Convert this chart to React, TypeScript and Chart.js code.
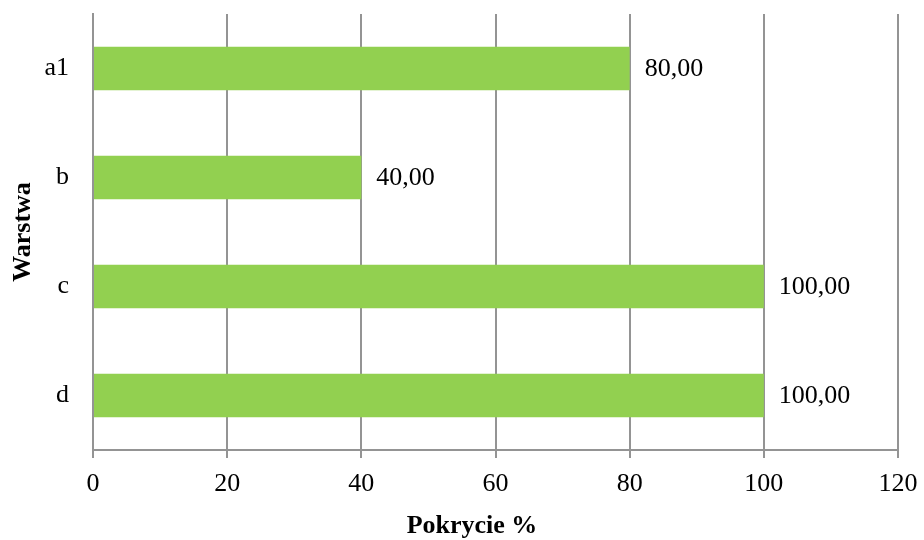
import React, { useEffect, useRef } from "react";
import { Chart, registerables } from "chart.js";

Chart.register(...registerables);

const categories = ["a1", "b", "c", "d"];
const coverage = [80, 40, 100, 100];
const xTicks = [0, 20, 40, 60, 80, 100, 120];
const xTitle = "Pokrycie %";
const yTitle = "Warstwa";

const FONT = "'Times New Roman', 'Liberation Serif', serif";
const GRID = "#949494";
const BAR = "#92D050";
const SIZE = 26;

// Value labels next to the bar ends, plus the two axis titles
const annotate = {
  id: "annotate",
  afterDatasetsDraw(chart: any) {
    const { ctx, chartArea } = chart;
    const meta = chart.getDatasetMeta(0);
    ctx.save();
    ctx.fillStyle = "#000";
    ctx.font = `${SIZE}px ${FONT}`;
    ctx.textAlign = "left";
    ctx.textBaseline = "middle";
    meta.data.forEach((bar: any, i: number) => {
      const v = coverage[i];
      ctx.fillText(v.toFixed(2).replace(".", ","), bar.x + 15, bar.y + 1);
    });
    ctx.font = `bold ${SIZE}px ${FONT}`;
    ctx.textAlign = "center";
    ctx.fillText(xTitle, 472, 526);
    ctx.translate(23, (chartArea.top + chartArea.bottom) / 2);
    ctx.rotate(-Math.PI / 2);
    ctx.fillText(yTitle, 0, 0);
    ctx.restore();
  },
};

const noPad = (s: any) => {
  s.paddingTop = 0;
  s.paddingBottom = 0;
  s.paddingLeft = 0;
  s.paddingRight = 0;
};

export default function App() {
  const ref = useRef<HTMLCanvasElement>(null);

  useEffect(() => {
    document.body.style.margin = "0";
    const chart = new Chart(ref.current!, {
      type: "bar",
      data: {
        labels: categories,
        datasets: [
          {
            data: coverage,
            backgroundColor: BAR,
            borderWidth: 0,
            barPercentage: 0.4,
            categoryPercentage: 1,
          },
        ],
      },
      options: {
        indexAxis: "y",
        responsive: false,
        animation: false,
        layout: { padding: { top: 14, right: 26, left: 0, bottom: 0 } },
        plugins: { legend: { display: false }, tooltip: { enabled: false } },
        scales: {
          x: {
            min: 0,
            max: 120,
            afterBuildTicks: (s: any) => {
              s.ticks = xTicks.map((v) => ({ value: v }));
            },
            afterFit: (s: any) => {
              s.height = 90;
              noPad(s);
            },
            grid: { color: GRID, lineWidth: 2, drawTicks: true, tickLength: 8, tickColor: GRID },
            border: { display: true, color: GRID, width: 2 },
            ticks: { color: "#000", font: { family: FONT, size: SIZE }, padding: 11, maxRotation: 0 },
          },
          y: {
            afterFit: (s: any) => {
              s.width = 93;
              noPad(s);
            },
            grid: { drawOnChartArea: false, drawTicks: false },
            border: { display: true, color: GRID, width: 2 },
            ticks: { color: "#000", font: { family: FONT, size: SIZE }, padding: 24 },
          },
        },
      },
      plugins: [annotate],
    });
    return () => chart.destroy();
  }, []);

  return <canvas ref={ref} width={924} height={540} style={{ display: "block" }} />;
}
